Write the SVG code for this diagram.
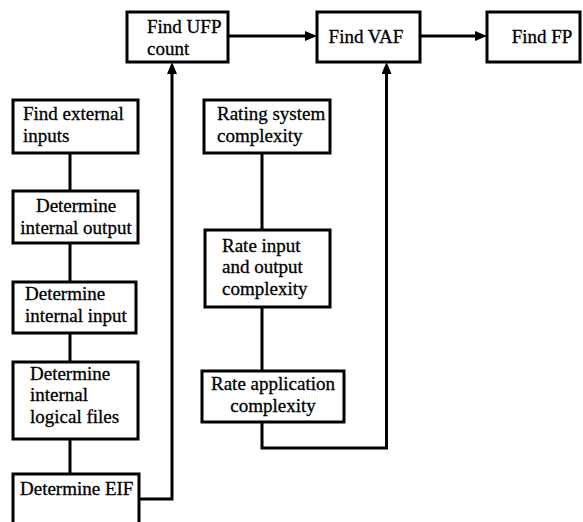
<svg xmlns="http://www.w3.org/2000/svg" width="583" height="522" viewBox="0 0 583 522">
<style>
.box{fill:#fff;stroke:#000;stroke-width:3}
.t{font-family:'Liberation Serif','Times New Roman','DejaVu Serif',serif;font-size:19px;fill:#000;stroke:#000;stroke-width:0.3}
.c{text-anchor:middle}
.ln{fill:none;stroke:#000;stroke-width:3}
</style>
<defs>
<marker id="ah" markerUnits="userSpaceOnUse" viewBox="0 0 12 10" markerWidth="12" markerHeight="10" refX="6" refY="5" orient="auto">
<path d="M0,0 L12,5 L0,10 z" fill="#000"/>
</marker>
</defs>
<rect width="583" height="522" fill="#fff"/>
<g id="connectors">
<line class="ln" x1="70" y1="153" x2="70" y2="474"/>
<polyline class="ln" points="139,499 172,499 172,68" marker-end="url(#ah)"/>
<line class="ln" x1="228" y1="36" x2="311" y2="36" marker-end="url(#ah)"/>
<line class="ln" x1="420" y1="36" x2="481" y2="36" marker-end="url(#ah)"/>
<line class="ln" x1="262" y1="153" x2="262" y2="371"/>
<polyline class="ln" points="262,422 262,448 386.5,448 386.5,68" marker-end="url(#ah)"/>
</g>
<g id="find-ufp">
<rect class="box" x="127" y="12" width="101" height="50"/>
<text class="t" x="147" y="33" font-family="Liberation Serif, serif">Find UFP</text>
<text class="t" x="147" y="55" font-family="Liberation Serif, serif">count</text>
</g>
<g id="find-vaf">
<rect class="box" x="317" y="12" width="103" height="50"/>
<text class="t c" x="366" y="43">Find VAF</text>
</g>
<g id="find-fp">
<rect class="box" x="487" y="12" width="93" height="50"/>
<text class="t c" x="542" y="43">Find FP</text>
</g>
<g id="find-external-inputs">
<rect class="box" x="13" y="100" width="125" height="53"/>
<text class="t" x="23" y="120">Find external</text>
<text class="t" x="23" y="142">inputs</text>
</g>
<g id="determine-internal-output">
<rect class="box" x="13" y="191" width="125" height="52"/>
<text class="t c" x="76" y="212">Determine</text>
<text class="t c" x="76" y="234">internal output</text>
</g>
<g id="determine-internal-input">
<rect class="box" x="13" y="282" width="123" height="51"/>
<text class="t" x="25" y="300">Determine</text>
<text class="t" x="25" y="322">internal input</text>
</g>
<g id="determine-internal-logical-files">
<rect class="box" x="13" y="362" width="125" height="77"/>
<text class="t" x="30" y="380">Determine</text>
<text class="t" x="30" y="401">internal</text>
<text class="t" x="30" y="423">logical files</text>
</g>
<g id="determine-eif">
<rect class="box" x="13" y="474" width="126" height="60"/>
<text class="t" x="20" y="495">Determine EIF</text>
</g>
<g id="rating-system-complexity">
<rect class="box" x="204" y="100" width="126" height="53"/>
<text class="t" x="217" y="120">Rating system</text>
<text class="t" x="217" y="142">complexity</text>
</g>
<g id="rate-input-output">
<rect class="box" x="205" y="230" width="125" height="77"/>
<text class="t" x="222" y="252">Rate input</text>
<text class="t" x="222" y="273">and output</text>
<text class="t" x="222" y="295">complexity</text>
</g>
<g id="rate-application">
<rect class="box" x="202" y="371" width="142" height="51"/>
<text class="t c" x="273" y="390">Rate application</text>
<text class="t c" x="273" y="412">complexity</text>
</g>
</svg>
